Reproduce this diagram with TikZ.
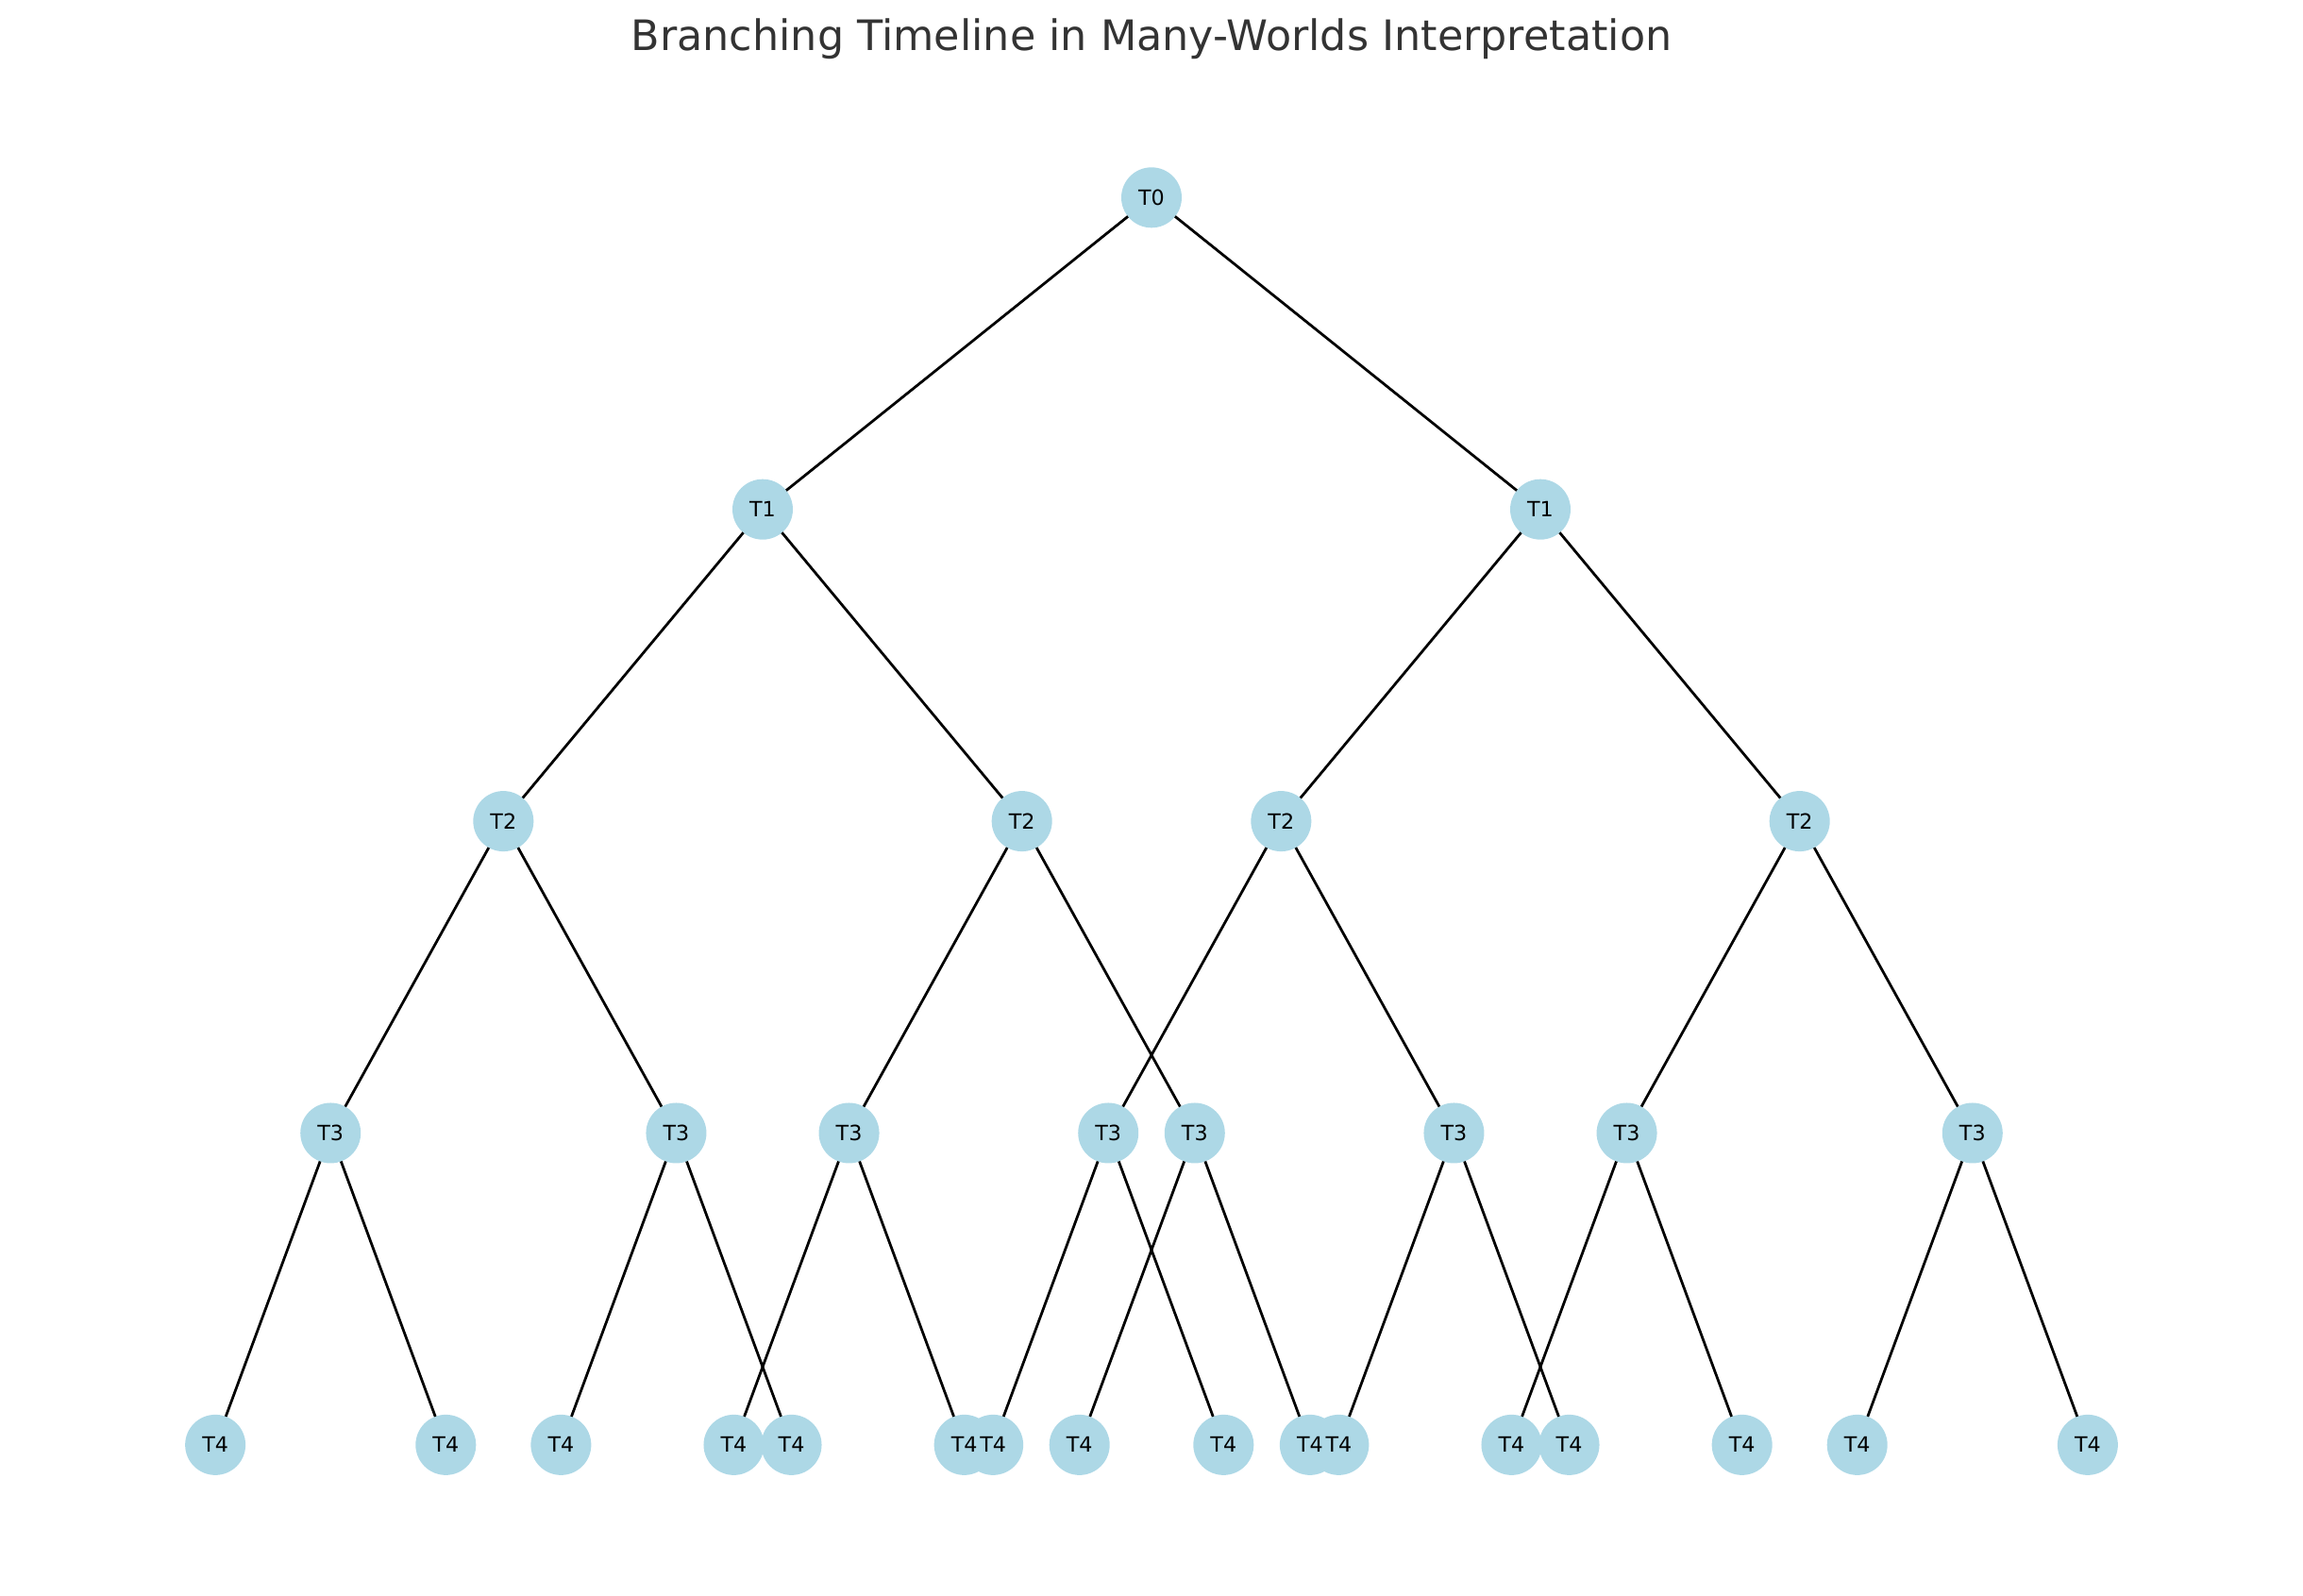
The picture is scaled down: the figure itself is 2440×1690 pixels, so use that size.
\documentclass[tikz,border=0pt]{standalone}
\usepackage{fontspec}
\setmainfont{DejaVu Sans}
\usetikzlibrary{positioning}
\definecolor{nodeblue}{HTML}{ADD8E6}
\definecolor{titlegray}{HTML}{333333}
\pgfdeclarelayer{discs}
\pgfsetlayers{discs,main}
\tikzset{
  moment/.style = {circle, minimum size=23.04pt, inner sep=0pt, outer sep=0pt,
                   font=\fontsize{8}{9.6}\selectfont, on grid},
  split/.style  = {-, line width=1pt, black},
  lvl1/.style   = {node distance=118.94pt and 148.32pt},
  lvl2/.style   = {node distance=118.94pt and 98.88pt},
  lvl3/.style   = {node distance=118.94pt and 65.92pt},
  lvl4/.style   = {node distance=118.94pt and 43.95pt}
}

\begin{document}
\begin{tikzpicture}[x=0.36pt, y=-0.36pt]
    \useasboundingbox (0,0) rectangle (2440,1690);
    \node[font=\fontsize{16}{19.2}\selectfont, text=titlegray, anchor=base] (title) at (1220,53.3)
    {Branching Timeline in Many-Worlds Interpretation};

    \node[moment] (t0) at (1220,209.3) {T0};

    \begin{scope}[lvl1]
      \node[moment, below left=of t0]  (t1a) {T1} edge [split] (t0);
      \node[moment, below right=of t0] (t1b) {T1} edge [split] (t0);
    \end{scope}

    \begin{scope}[lvl2]
      \node[moment, below left=of t1a]  (t2a) {T2} edge [split] (t1a);
      \node[moment, below right=of t1a] (t2b) {T2} edge [split] (t1a);
      \node[moment, below left=of t1b]  (t2c) {T2} edge [split] (t1b);
      \node[moment, below right=of t1b] (t2d) {T2} edge [split] (t1b);
    \end{scope}

    \begin{scope}[lvl3]
      \node[moment, below left=of t2a]  (t3a) {T3} edge [split] (t2a);
      \node[moment, below right=of t2a] (t3b) {T3} edge [split] (t2a);
      \node[moment, below left=of t2b]  (t3c) {T3} edge [split] (t2b);
      \node[moment, below right=of t2b] (t3d) {T3} edge [split] (t2b);
      \node[moment, below left=of t2c]  (t3e) {T3} edge [split] (t2c);
      \node[moment, below right=of t2c] (t3f) {T3} edge [split] (t2c);
      \node[moment, below left=of t2d]  (t3g) {T3} edge [split] (t2d);
      \node[moment, below right=of t2d] (t3h) {T3} edge [split] (t2d);
    \end{scope}

    \begin{scope}[lvl4]
      \node[moment, below left=of t3a]  (t4a) {T4} edge [split] (t3a);
      \node[moment, below right=of t3a] (t4b) {T4} edge [split] (t3a);
      \node[moment, below left=of t3b]  (t4c) {T4} edge [split] (t3b);
      \node[moment, below right=of t3b] (t4d) {T4} edge [split] (t3b);
      \node[moment, below left=of t3c]  (t4e) {T4} edge [split] (t3c);
      \node[moment, below right=of t3c] (t4f) {T4} edge [split] (t3c);
      \node[moment, below left=of t3d]  (t4g) {T4} edge [split] (t3d);
      \node[moment, below right=of t3d] (t4h) {T4} edge [split] (t3d);
      \node[moment, below left=of t3e]  (t4i) {T4} edge [split] (t3e);
      \node[moment, below right=of t3e] (t4j) {T4} edge [split] (t3e);
      \node[moment, below left=of t3f]  (t4k) {T4} edge [split] (t3f);
      \node[moment, below right=of t3f] (t4l) {T4} edge [split] (t3f);
      \node[moment, below left=of t3g]  (t4m) {T4} edge [split] (t3g);
      \node[moment, below right=of t3g] (t4n) {T4} edge [split] (t3g);
      \node[moment, below left=of t3h]  (t4o) {T4} edge [split] (t3h);
      \node[moment, below right=of t3h] (t4p) {T4} edge [split] (t3h);
    \end{scope}

    % discs go under the labels, so overlapping labels stay readable
    \begin{pgfonlayer}{discs}
      \foreach \n in {t0,t1a,t1b,t2a,t2b,t2c,t2d,t3a,t3b,t3c,t3d,t3e,t3f,t3g,t3h,
                      t4a,t4b,t4c,t4d,t4e,t4f,t4g,t4h,t4i,t4j,t4k,t4l,t4m,t4n,t4o,t4p}
        \fill[nodeblue] (\n.center) circle [radius=11.52pt];
    \end{pgfonlayer}
\end{tikzpicture}
\end{document}
